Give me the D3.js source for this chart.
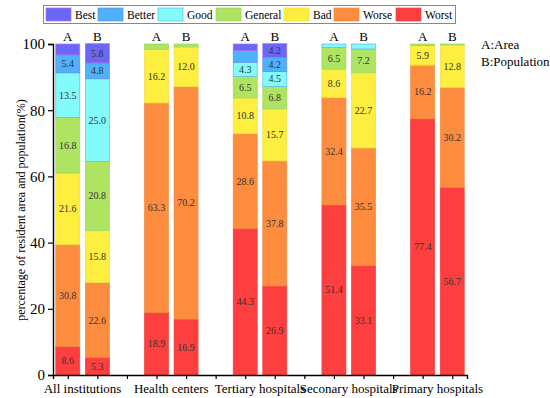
<!DOCTYPE html>
<html>
<head>
<meta charset="utf-8">
<script src="https://cdn.jsdelivr.net/npm/d3@7"></script>
<style>
  body { margin: 0; background: #fff; }
</style>
</head>
<body>
<div id="chart"></div>
<script>
// categories and bar positions (two bars per group, a gap between groups)
var groups = ["All institutions", "Health centers", "Tertiary hospitals", "Seconary hospitals", "Primary hospitals"];
var barNames = ["A", "B"];
var levels = ["Worst", "Worse", "Bad", "General", "Good", "Better", "Best"];   // bottom to top
var legendOrder = ["Best", "Better", "Good", "General", "Bad", "Worse", "Worst"];
var yTicks = [0, 20, 40, 60, 80, 100];

// percentages, one array per bar, bottom (Worst) to top (Best)
var allA = [8.6, 30.8, 21.6, 16.8, 13.5, 5.4, 3.3];
var allB = [5.3, 22.6, 15.8, 20.8, 25.0, 4.8, 5.8];
var healthA = [18.9, 63.3, 16.2, 1.6, 0, 0, 0];
var healthB = [16.9, 70.2, 12.0, 0.9, 0, 0, 0];
var tertiaryA = [44.3, 28.6, 10.8, 6.5, 4.3, 3.5, 2.0];
var tertiaryB = [26.9, 37.8, 15.7, 6.8, 4.5, 4.2, 4.2];
var secondaryA = [51.4, 32.4, 8.6, 6.5, 1.1, 0, 0];
var secondaryB = [33.1, 35.5, 22.7, 7.2, 1.5, 0, 0];
var primaryA = [77.4, 16.2, 5.9, 0.5, 0, 0, 0];
var primaryB = [56.7, 30.2, 12.8, 0.3, 0, 0, 0];

var barValues = [allA, allB, healthA, healthB, tertiaryA, tertiaryB, secondaryA, secondaryB, primaryA, primaryB];

var colors = {
    Best: "#6a66f6", Better: "#4fb0fb", Good: "#84fbfb", General: "#aee461",
    Bad: "#fdee40", Worse: "#fd8c3e", Worst: "#fd3f3f"
};
var strokes = {
    Best: "#b070f0", Better: "#5a8ff0", Good: "#5ab8f0", General: "#98d860",
    Bad: "#f0e040", Worse: "#f08a40", Worst: "#f04040"
};
var FONT = "'Liberation Serif', 'Times New Roman', 'DejaVu Serif', serif";

var W = 550, H = 398;
var svg = d3.select("#chart").append("svg").attr("width", W).attr("height", H);

var x = d3.scaleLinear().domain([0.5, 14.5]).range([53, 467]);
var y = d3.scaleLinear().domain([0, 100]).range([375, 44]);
var barW = 24;

// bar i of group g sits at position g*3 + i + 1
function pos(g, i) { return g * 3 + i + 1; }

// stacked bars
var segs = [];
barValues.forEach(function (vals, k) {
    var g = Math.floor(k / 2), i = k % 2;
    var acc = 0;
    vals.forEach(function (v, j) {
        if (v > 0) segs.push({ g: g, i: i, level: levels[j], y0: acc, y1: acc + v, v: v });
        acc += v;
    });
});

svg.append("g").selectAll("rect")
    .data(segs).enter().append("rect")
    .attr("x", function (d) { return x(pos(d.g, d.i)) - barW / 2; })
    .attr("width", barW)
    .attr("y", function (d) { return y(d.y1); })
    .attr("height", function (d) { return y(d.y0) - y(d.y1); })
    .attr("fill", function (d) { return colors[d.level]; })
    .attr("stroke", function (d) { return strokes[d.level]; })
    .attr("stroke-width", 0.7);

// value labels (small segments left unlabelled)
svg.append("g").selectAll("text")
    .data(segs.filter(function (d) { return d.v >= 4; })).enter().append("text")
    .attr("x", function (d) { return x(pos(d.g, d.i)); })
    .attr("y", function (d) { return y((d.y0 + d.y1) / 2); })
    .attr("dy", "0.35em")
    .attr("text-anchor", "middle")
    .style("font-size", "10px")
    .style("fill", "#333")
    .text(function (d) { return d3.format(".1f")(d.v); });

// A / B labels above bars
var abData = [];
groups.forEach(function (gName, g) { barNames.forEach(function (b, i) { abData.push({ g: g, i: i, b: b }); }); });
svg.append("g").selectAll("text")
    .data(abData).enter().append("text")
    .attr("x", function (d) { return x(pos(d.g, d.i)); })
    .attr("y", 41)
    .attr("text-anchor", "middle")
    .style("font-size", "13px")
    .text(function (d) { return d.b; });

// y axis
var yAxis = svg.append("g")
    .attr("transform", "translate(53,0)")
    .call(d3.axisLeft(y).tickValues(yTicks).tickSize(5).tickPadding(3));
yAxis.select(".domain").attr("stroke-width", 1.4);
yAxis.selectAll(".tick line").attr("stroke-width", 1.2);
yAxis.selectAll("text").style("font-size", "15px");

// x axis: ticks at each bar/gap position, labels at group centres
var xTicks = d3.range(1, 15);
var xAxis = svg.append("g")
    .attr("transform", "translate(0,375)")
    .call(d3.axisBottom(x).tickValues(xTicks).tickSize(4).tickFormat(""));
xAxis.select(".domain").attr("stroke-width", 1.4);
xAxis.selectAll(".tick line").attr("stroke-width", 1.2);

svg.append("g").selectAll("text")
    .data(groups).enter().append("text")
    .attr("x", function (d, g) { return x(pos(g, 0) + 0.5); })
    .attr("y", 393)
    .attr("text-anchor", "middle")
    .style("font-size", "13px")
    .text(function (d) { return d; });

// y axis title
svg.append("text")
    .attr("transform", "translate(25,210) rotate(-90)")
    .attr("text-anchor", "middle")
    .style("font-size", "12px")
    .text("percentage of resident area and population(%)");

// A/B key
svg.append("text").attr("x", 481).attr("y", 49).style("font-size", "13px").text("A:Area");
svg.append("text").attr("x", 481).attr("y", 66).style("font-size", "13px").text("B:Population");

// legend
var legendX = [46, 98, 158, 216, 284, 334, 396];
var legend = svg.append("g");
legend.append("rect")
    .attr("x", 43.5).attr("y", 5.5).attr("width", 412).attr("height", 18)
    .attr("fill", "#fff").attr("stroke", "#888").attr("stroke-width", 1);
legendOrder.forEach(function (name, k) {
    legend.append("rect")
        .attr("x", legendX[k]).attr("y", 8).attr("width", 25).attr("height", 13)
        .attr("fill", colors[name]).attr("stroke", strokes[name]).attr("stroke-width", 0.7);
    legend.append("text")
        .attr("x", legendX[k] + 29).attr("y", 19)
        .style("font-size", "11.5px")
        .text(name);
});

// serif font everywhere
svg.selectAll("text").style("font-family", FONT);
</script>
</body>
</html>
